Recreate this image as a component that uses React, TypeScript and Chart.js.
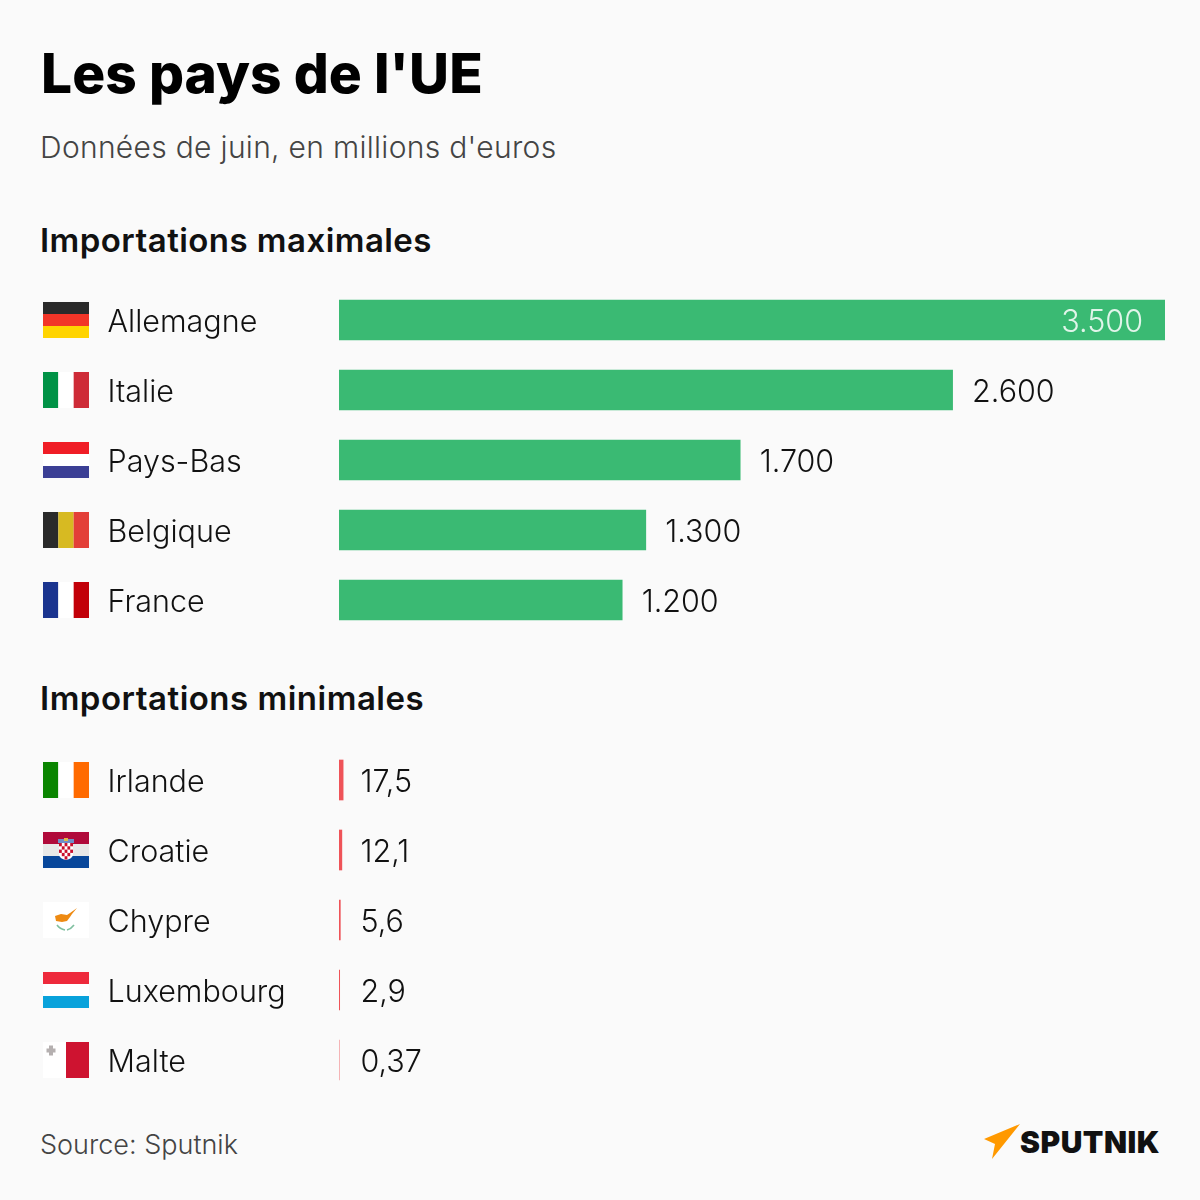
import React, { useEffect, useRef } from "react";
import { Chart, registerables } from "chart.js";

Chart.register(...registerables);

const maxCountries = ["Allemagne", "Italie", "Pays-Bas", "Belgique", "France"];
const maxValues = [3500, 2600, 1700, 1300, 1200];
const maxLabels = ["3.500", "2.600", "1.700", "1.300", "1.200"];

const minCountries = ["Irlande", "Croatie", "Chypre", "Luxembourg", "Malte"];
const minValues = [17.5, 12.1, 5.6, 2.9, 0.37];
const minLabels = ["17,5", "12,1", "5,6", "2,9", "0,37"];

const AXIS_MAX = 3500;
const FONT = "Inter, 'Noto Sans', sans-serif";

type Flag = { dir: "h" | "v"; colors: string[]; extra?: string };
const flags: Record<string, Flag> = {
  Allemagne: { dir: "h", colors: ["#2a2a2a", "#f23528", "#ffd400"] },
  Italie: { dir: "v", colors: ["#009246", "#ffffff", "#ce2b37"] },
  "Pays-Bas": { dir: "h", colors: ["#f01d26", "#ffffff", "#3b3f95"] },
  Belgique: { dir: "v", colors: ["#2a2a2a", "#d7ba22", "#e33f38"] },
  France: { dir: "v", colors: ["#1a348f", "#ffffff", "#c20008"] },
  Irlande: { dir: "v", colors: ["#0a8500", "#ffffff", "#ff6a00"] },
  Croatie: { dir: "h", colors: ["#b00a3a", "#e8e8e8", "#08479b"], extra: "hr" },
  Chypre: { dir: "h", colors: ["#ffffff"], extra: "cy" },
  Luxembourg: { dir: "h", colors: ["#ee2a3c", "#ffffff", "#09a2db"] },
  Malte: { dir: "v", colors: ["#ffffff", "#ce1330"], extra: "mt" },
};

function drawFlag(ctx: CanvasRenderingContext2D, name: string, x: number, cy: number) {
  const W = 46, H = 36;
  const top = cy - H / 2;
  const f = flags[name];
  const n = f.colors.length;
  f.colors.forEach((c, i) => {
    ctx.fillStyle = c;
    if (f.dir === "v") ctx.fillRect(x + (W * i) / n, top, W / n, H);
    else ctx.fillRect(x, top + (H * i) / n, W, H / n);
  });
  if (f.extra === "hr") {
    const cx = x + 23;
    ctx.fillStyle = "#6f8fc9";
    ctx.fillRect(cx - 8, top + 7, 16, 4);
    ctx.fillStyle = "#e0b84a";
    ctx.fillRect(cx - 2, top + 6, 4, 3);
    ctx.fillStyle = "#ffffff";
    ctx.beginPath();
    ctx.moveTo(cx - 7, top + 11);
    ctx.lineTo(cx + 7, top + 11);
    ctx.lineTo(cx + 7, top + 23);
    ctx.quadraticCurveTo(cx + 6, top + 27, cx, top + 28);
    ctx.quadraticCurveTo(cx - 6, top + 27, cx - 7, top + 23);
    ctx.closePath();
    ctx.fill();
    ctx.fillStyle = "#c8102e";
    for (let r = 0; r < 5; r++) {
      for (let c = 0; c < 5; c++) {
        if ((r + c) % 2 === 0 && !(r === 4 && (c === 0 || c === 4))) {
          ctx.fillRect(cx - 7 + c * 2.8, top + 11 + r * 3.3, 2.8, 3.3);
        }
      }
    }
  }
  if (f.extra === "cy") {
    ctx.fillStyle = "#ee8a12";
    ctx.beginPath();
    ctx.moveTo(x + 12, top + 14);
    ctx.lineTo(x + 18, top + 12);
    ctx.lineTo(x + 24, top + 13);
    ctx.lineTo(x + 27, top + 11);
    ctx.lineTo(x + 34, top + 6);
    ctx.lineTo(x + 29, top + 12);
    ctx.lineTo(x + 27, top + 15);
    ctx.lineTo(x + 24, top + 19);
    ctx.lineTo(x + 19, top + 20);
    ctx.lineTo(x + 13, top + 19);
    ctx.closePath();
    ctx.fill();
    ctx.strokeStyle = "#7fbf9f";
    ctx.lineWidth = 1.6;
    ctx.beginPath();
    ctx.moveTo(x + 14, top + 23);
    ctx.quadraticCurveTo(x + 17, top + 27, x + 22, top + 28);
    ctx.moveTo(x + 31, top + 23);
    ctx.quadraticCurveTo(x + 28, top + 27, x + 24, top + 28);
    ctx.stroke();
  }
  if (f.extra === "mt") {
    ctx.fillStyle = "#b5b0b0";
    ctx.fillRect(x + 6, top + 3.5, 4, 10);
    ctx.fillRect(x + 3.5, top + 6.5, 9, 4);
  }
}

const rowDecorPlugin = {
  id: "rowDecor",
  afterDatasetsDraw(chart: any, _args: any, opts: any) {
    const { ctx, scales } = chart;
    const meta = chart.getDatasetMeta(0);
    ctx.save();
    ctx.font = `300 30.5px ${FONT}`;
    ctx.textBaseline = "middle";
    meta.data.forEach((bar: any, i: number) => {
      const y = bar.y;
      const name = scales.y.getLabelForValue(i);
      drawFlag(ctx, name, 43, y);
      ctx.textAlign = "left";
      ctx.fillStyle = "#111111";
      ctx.fillText(name, 107.5, y + 3);
      const label = opts.labels[i];
      if (opts.inside && chart.data.datasets[0].data[i] >= AXIS_MAX) {
        ctx.textAlign = "right";
        ctx.fillStyle = "rgba(255,255,255,0.85)";
        ctx.fillText(label, bar.x - 22, y + 3);
      } else {
        ctx.fillStyle = "#111111";
        const x = opts.inside ? bar.x + 19.5 : scales.x.getPixelForValue(0) + 21.5;
        ctx.fillText(label, x, y + 3);
      }
    });
    ctx.restore();
  },
};

function BarPanel(props: {
  countries: string[]; values: number[]; labels: string[];
  color: string; top: number; inside: boolean;
}) {
  const ref = useRef<HTMLCanvasElement>(null);
  useEffect(() => {
    const chart = new Chart(ref.current as HTMLCanvasElement, {
      type: "bar",
      data: {
        labels: props.countries,
        datasets: [{
          data: props.values,
          backgroundColor: props.color,
          barThickness: 40,
          borderWidth: 0,
        }],
      },
      plugins: [rowDecorPlugin],
      options: {
        indexAxis: "y",
        animation: false,
        responsive: false,
        devicePixelRatio: 1,
        layout: { padding: { left: 108, right: 35, top: 0, bottom: 0 } },
        plugins: {
          legend: { display: false },
          tooltip: { enabled: false },
          rowDecor: { labels: props.labels, inside: props.inside },
        } as any,
        scales: {
          x: { display: false, min: 0, max: AXIS_MAX },
          y: {
            type: "category",
            grid: { display: false, drawTicks: false },
            border: { display: false },
            afterFit: (s: any) => {
              s.width = 231;
              s.paddingTop = 0;
              s.paddingBottom = 0;
            },
            ticks: { display: false },
          },
        },
      } as any,
    });
    return () => chart.destroy();
  }, []);
  return (
    <canvas
      ref={ref}
      width={1200}
      height={350}
      style={{ position: "absolute", left: 0, top: props.top, width: 1200, height: 350 }}
    />
  );
}

const text = (top: number, size: number, weight: number, color: string, extra: any = {}) => ({
  position: "absolute" as const,
  left: 40,
  top,
  fontFamily: FONT,
  fontSize: size,
  fontWeight: weight,
  color,
  lineHeight: 1,
  whiteSpace: "nowrap" as const,
  ...extra,
});

export default function App() {
  useEffect(() => {
    document.body.style.margin = "0";
    document.body.style.background = "#fafafa";
  }, []);
  return (
    <div style={{ position: "relative", width: 1200, height: 1200, background: "#fafafa", overflow: "hidden" }}>
      <div style={text(46, 55, 800, "#000000", { left: 41, letterSpacing: 0.05 })}>Les pays de l'UE</div>
      <div style={text(132, 30, 300, "#444444", { letterSpacing: 0.3 })}>Données de juin, en millions d'euros</div>
      <div style={text(224, 33, 600, "#111111", { letterSpacing: 0.45 })}>Importations maximales</div>
      <div style={text(682, 33, 600, "#111111", { letterSpacing: 0.5 })}>Importations minimales</div>
      <BarPanel countries={maxCountries} values={maxValues} labels={maxLabels} color="#3aba73" top={285} inside={true} />
      <BarPanel countries={minCountries} values={minValues} labels={minLabels} color="#ef5358" top={745} inside={false} />
      <div style={text(1131, 27, 300, "#444444")}>Source: Sputnik</div>
      <svg width={50} height={50} style={{ position: "absolute", left: 980, top: 1120 }}>
        <polygon points="40,4 4,19 15,24 12,39" fill="#ff9900" />
      </svg>
      <div style={text(1127, 30, 900, "#111111", { left: 1020, letterSpacing: 0.5 })}>SPUTNIK</div>
    </div>
  );
}
